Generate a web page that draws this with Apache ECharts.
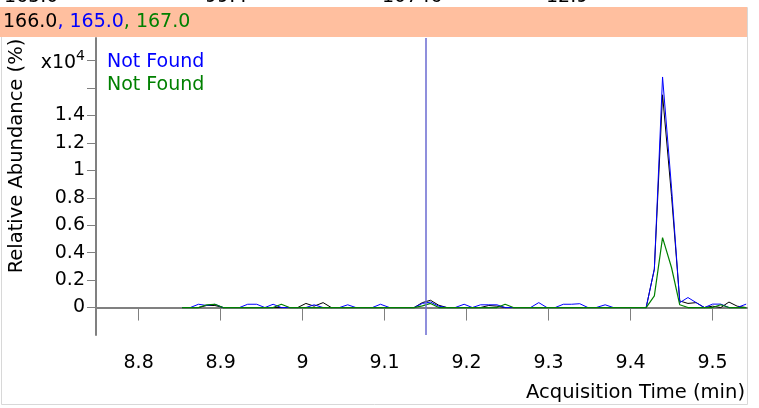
<!DOCTYPE html>
<html>
<head>
<meta charset="utf-8">
<script src="https://cdn.jsdelivr.net/npm/echarts@6/dist/echarts.min.js"></script>
<style>
  html, body { margin: 0; padding: 0; background: #fff; }
  #main { width: 759px; height: 408px; }
</style>
</head>
<body>
<div id="main"></div>
<script>
// scan times (min)
var times = [8.853, 8.863, 8.873, 8.883, 8.893, 8.903, 8.913, 8.923, 8.933, 8.944,
  8.954, 8.964, 8.974, 8.984, 8.994, 9.004, 9.014, 9.025, 9.035, 9.045,
  9.055, 9.065, 9.075, 9.085, 9.095, 9.106, 9.116, 9.126, 9.136, 9.146,
  9.156, 9.166, 9.176, 9.186, 9.197, 9.207, 9.217, 9.227, 9.237, 9.247,
  9.257, 9.267, 9.278, 9.288, 9.298, 9.308, 9.318, 9.328, 9.338, 9.348,
  9.358, 9.369, 9.379, 9.389, 9.399, 9.409, 9.419, 9.429, 9.439, 9.450,
  9.460, 9.470, 9.480, 9.490, 9.500, 9.510, 9.520, 9.530, 9.541];

// abundance x10^4, m/z 166.0 (black)
var black166 = [0, 0, 0, 0.015, 0.015, 0, 0, 0, 0, 0,
  0, 0, 0, 0, 0, 0.03, 0.01, 0.036, 0, 0,
  0, 0, 0, 0, 0, 0, 0, 0, 0, 0.036,
  0.053, 0.017, 0, 0, 0, 0, 0, 0.015, 0.01, 0,
  0, 0, 0, 0, 0, 0, 0, 0, 0, 0,
  0, 0, 0, 0, 0, 0, 0, 0.28, 1.55, 0.81,
  0.048, 0.03, 0.036, 0, 0.01, 0, 0.04, 0.01, 0];

// m/z 165.0 (blue)
var blue165 = [0, 0, 0.024, 0.015, 0.024, 0, 0, 0, 0.024, 0.024,
  0, 0.024, 0, 0, 0, 0, 0.02, 0, 0, 0,
  0.02, 0, 0, 0, 0.024, 0, 0, 0, 0, 0.03,
  0.04, 0.01, 0, 0, 0.024, 0, 0.02, 0.02, 0.02, 0,
  0, 0, 0, 0.036, 0, 0, 0.024, 0.024, 0.028, 0,
  0, 0.02, 0, 0, 0, 0, 0, 0.28, 1.68, 0.87,
  0.036, 0.073, 0.036, 0, 0.025, 0.025, 0, 0, 0.025];

// m/z 167.0 (green)
var green167 = [0, 0, 0, 0.02, 0.024, 0, 0, 0, 0, 0,
  0, 0, 0.024, 0, 0, 0, 0, 0, 0, 0,
  0, 0, 0, 0, 0, 0, 0, 0, 0, 0.012,
  0.03, 0, 0, 0, 0, 0, 0, 0, 0, 0.024,
  0, 0, 0, 0, 0, 0, 0, 0, 0, 0,
  0, 0, 0, 0, 0, 0, 0, 0.085, 0.51, 0.29,
  0.02, 0, 0, 0, 0, 0.02, 0, 0, 0];

var xTicks = [8.8, 8.9, 9, 9.1, 9.2, 9.3, 9.4, 9.5];
var yTicks = [0, 0.2, 0.4, 0.6, 0.8, 1, 1.2, 1.4, 1.6, 1.8];
var yLabels = [0, 0.2, 0.4, 0.6, 0.8, 1, 1.2, 1.4, 1.8];
var markerTime = 9.148;

var font = '"DejaVu Sans", Verdana, sans-serif';

function pairs(vals) {
  return times.map(function (t, i) { return [t, vals[i]]; });
}

var chart = echarts.init(document.getElementById('main'));

chart.setOption({
  animation: false,
  backgroundColor: '#fff',
  grid: { left: 96, right: 12, top: 38, bottom: 73 },
  xAxis: {
    type: 'value',
    min: 8.748,
    max: 9.542,
    splitLine: { show: false },
    axisLine: { lineStyle: { color: '#808080', width: 2 } },
    axisTick: { customValues: xTicks, length: 13, lineStyle: { color: '#808080', width: 1 } },
    axisLabel: {
      customValues: xTicks, margin: 19, color: '#000',
      fontFamily: font, fontSize: 19,
      formatter: function (v) { return String(v); }
    }
  },
  yAxis: {
    type: 'value',
    min: -0.2,
    max: 1.964,
    splitLine: { show: false },
    axisLine: { show: true, lineStyle: { color: '#808080', width: 2 } },
    axisTick: { show: true, customValues: yTicks, length: 9, lineStyle: { color: '#808080', width: 1 } },
    axisLabel: {
      customValues: yLabels, margin: 11, color: '#000',
      fontFamily: font, fontSize: 19,
      formatter: function (v) {
        if (v > 1.7) return '{a|x10}{s|4}';
        return String(v);
      },
      rich: {
        a: { fontFamily: font, fontSize: 19, color: '#000', padding: [6, 0, 0, 0] },
        s: { fontFamily: font, fontSize: 14, color: '#000', padding: [0, 0, 8, 0] }
      }
    }
  },
  series: [
    {
      type: 'line', data: pairs(black166), symbol: 'none',
      lineStyle: { color: '#000', width: 1 }, z: 2,
      markLine: {
        silent: true, symbol: 'none', label: { show: false },
        lineStyle: { color: '#6a6ad0', width: 1.5, type: 'solid' },
        data: [{ xAxis: markerTime }]
      }
    },
    { type: 'line', data: pairs(blue165), symbol: 'none', lineStyle: { color: '#0000ff', width: 1 }, z: 3 },
    { type: 'line', data: pairs(green167), symbol: 'none', lineStyle: { color: '#008000', width: 1.2 }, z: 4 }
  ],
  graphic: [
    { type: 'rect', shape: { x: 1.5, y: 7.5, width: 746, height: 397 }, style: { fill: 'none', stroke: '#d8d8d8', lineWidth: 1 }, z: 0 },
    { type: 'rect', shape: { x: 0, y: 7, width: 747, height: 30 }, style: { fill: '#ffbf9f' }, z: 1 },
    {
      type: 'text', left: 3, top: 13, z: 2,
      style: {
        text: '{k|166.0}{b|, 165.0}{g|, 167.0}',
        rich: {
          k: { fill: '#000', fontFamily: font, fontSize: 19 },
          b: { fill: '#0000ff', fontFamily: font, fontSize: 19 },
          g: { fill: '#008000', fontFamily: font, fontSize: 19 }
        }
      }
    },
    { type: 'text', x: 4, y: 7, style: { text: '165.0', fill: '#000', font: '19px ' + font, verticalAlign: 'bottom' } },
    { type: 'text', x: 205, y: 7, style: { text: '99.4', fill: '#000', font: '19px ' + font, verticalAlign: 'bottom' } },
    { type: 'text', x: 382, y: 7, style: { text: '10746', fill: '#000', font: '19px ' + font, verticalAlign: 'bottom' } },
    { type: 'text', x: 546, y: 7, style: { text: '12.9', fill: '#000', font: '19px ' + font, verticalAlign: 'bottom' } },
    { type: 'text', x: 107, y: 62, style: { text: 'Not Found', fill: '#0000ff', font: '19px ' + font, verticalAlign: 'middle' } },
    { type: 'text', x: 107, y: 85, style: { text: 'Not Found', fill: '#008000', font: '19px ' + font, verticalAlign: 'middle' } },
    {
      type: 'text', x: 17, y: 156, rotation: Math.PI / 2,
      style: { text: 'Relative Abundance (%)', fill: '#000', font: '19.5px ' + font, align: 'center', verticalAlign: 'middle' }
    },
    { type: 'text', x: 745, y: 393, style: { text: 'Acquisition Time (min)', fill: '#000', font: '19.5px ' + font, align: 'right', verticalAlign: 'middle' } }
  ]
});
</script>
</body>
</html>
